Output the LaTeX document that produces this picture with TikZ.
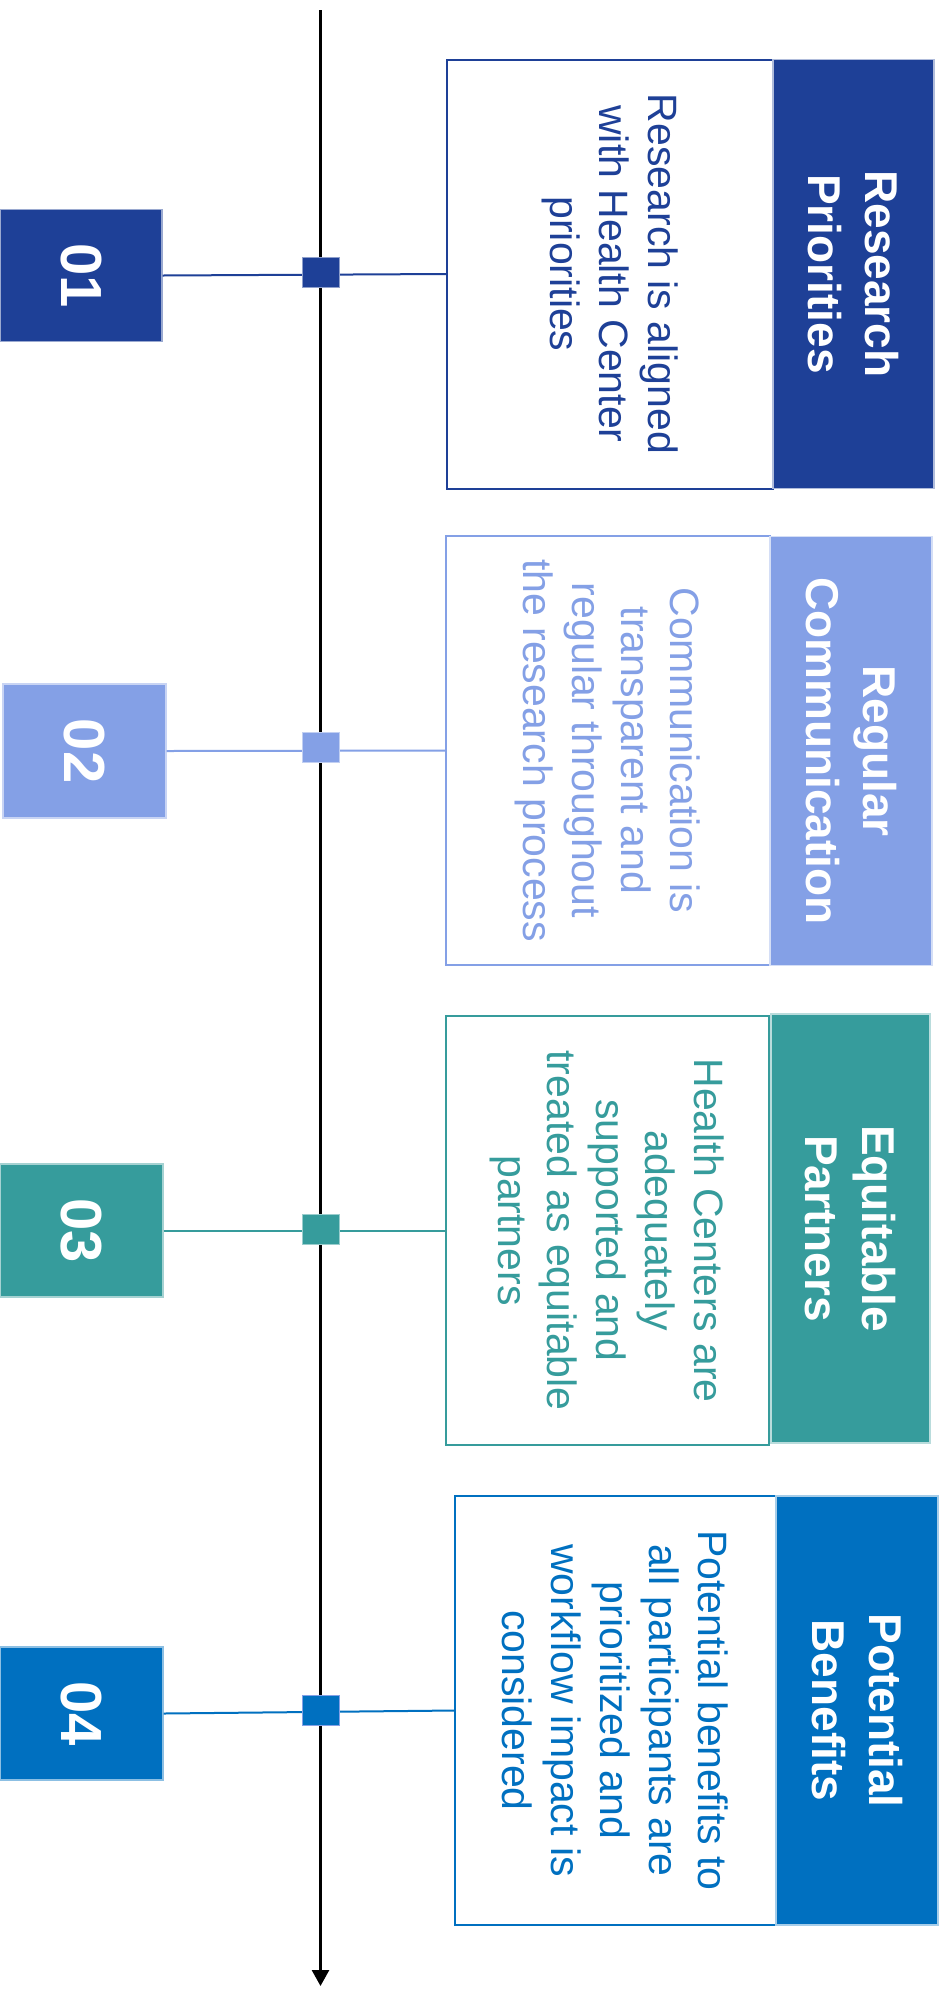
\documentclass[tikz,border=0pt]{standalone}
\usepackage{fontspec}
\setmainfont{Liberation Sans}
\usetikzlibrary{arrows.meta}
\definecolor{cA}{RGB}{30,64,151}
\definecolor{cB}{RGB}{132,160,230}
\definecolor{cC}{RGB}{54,156,156}
\definecolor{cD}{RGB}{0,112,192}
\begin{document}
\begin{tikzpicture}[x=1pt,y=-1pt,
  numbox/.style={fill=#1, draw=#1!45!white, line width=1.2pt, inner sep=0pt, minimum width=162pt, minimum height=132pt},
  numtext/.style={rotate=-90, text=white, inner sep=0pt, font=\fontsize{58}{64}\selectfont\bfseries},
  descbox/.style={draw=#1, line width=2pt, fill=white, inner sep=0pt, minimum height=429pt},
  desctext/.style={rotate=-90, text=#1, align=center, inner sep=0pt, font=\fontsize{41}{49}\selectfont},
  titlebox/.style={fill=#1, draw=#1!35!white, line width=1.5pt, inner sep=0pt, minimum width=161pt, minimum height=429pt},
  titletext/.style={rotate=-90, text=white, align=center, inner sep=0pt, font=\fontsize{46}{57}\selectfont\bfseries},
  dotbox/.style={fill=#1, draw=#1!50!white, line width=1pt, inner sep=0pt, minimum width=37pt, minimum height=30pt},
  linkline/.style={draw=#1, line width=2pt},
]
\useasboundingbox (0,0) rectangle (944,1998);
\fill[white] (0,0) rectangle (944,1998);

% timeline
\coordinate (top) at (320.5,10);
\coordinate (bot) at (320.5,1986);
\draw[line width=2.7pt, -{Triangle[length=16pt,width=17pt]}] (top) -- (bot);

% item 1
\node[numbox=cA] (n1) at (81,275.5) {};
\node[numtext] (n1t) at (n1.center) {01};
\node[descbox=cA, minimum width=326pt] (d1) at (610,274) {};
\node[desctext=cA] (d1t) at (d1.center) {Research is aligned\\with Health Center\\priorities};
\node[titlebox=cA] (t1) at (853.5,274) {};
\node[titletext] (t1t) at (t1.center) {Research\\Priorities};
\draw[linkline=cA] (n1.east) -- (d1.west);
\node[dotbox=cA] (m1) at (320.5,272) {};

% item 2
\node[numbox=cB, minimum width=163pt, minimum height=134pt] (n2) at (84.5,751) {};
\node[numtext] (n2t) at (n2.center) {02};
\node[descbox=cB, minimum width=324pt] (d2) at (608,750.5) {};
\node[desctext=cB] (d2t) at (d2.center) {Communication is\\transparent and\\regular throughout\\the research process};
\node[titlebox=cB, minimum width=162pt] (t2) at (851,751) {};
\node[titletext] (t2t) at (t2.center) {Regular\\Communication};
\draw[linkline=cB] (n2.east) -- (d2.west);
\node[dotbox=cB] (m2) at (320.5,747) {};

% item 3
\node[numbox=cC, minimum width=163pt, minimum height=133pt] (n3) at (81.5,1230.5) {};
\node[numtext] (n3t) at (n3.center) {03};
\node[descbox=cC, minimum width=323pt] (d3) at (607.5,1230.5) {};
\node[desctext=cC] (d3t) at (d3.center) {Health Centers are\\adequately\\supported and\\treated as equitable\\partners};
\node[titlebox=cC, minimum width=159pt] (t3) at (850.5,1228.5) {};
\node[titletext] (t3t) at (t3.center) {Equitable\\Partners};
\draw[linkline=cC] (n3.east) -- (d3.west);
\node[dotbox=cC] (m3) at (320.5,1229.5) {};

% item 4
\node[numbox=cD, minimum width=163pt, minimum height=133pt] (n4) at (81.5,1713.5) {};
\node[numtext] (n4t) at (n4.center) {04};
\node[descbox=cD, minimum width=321pt] (d4) at (615.5,1710.5) {};
\node[desctext=cD] (d4t) at (d4.center) {Potential benefits to\\all participants are\\prioritized and\\workflow impact is\\considered};
\node[titlebox=cD, minimum width=162pt] (t4) at (857,1710.5) {};
\node[titletext] (t4t) at (t4.center) {Potential\\Benefits};
\draw[linkline=cD] (n4.east) -- (d4.west);
\node[dotbox=cD, draw=cB] (m4) at (321,1710) {};
\end{tikzpicture}
\end{document}
